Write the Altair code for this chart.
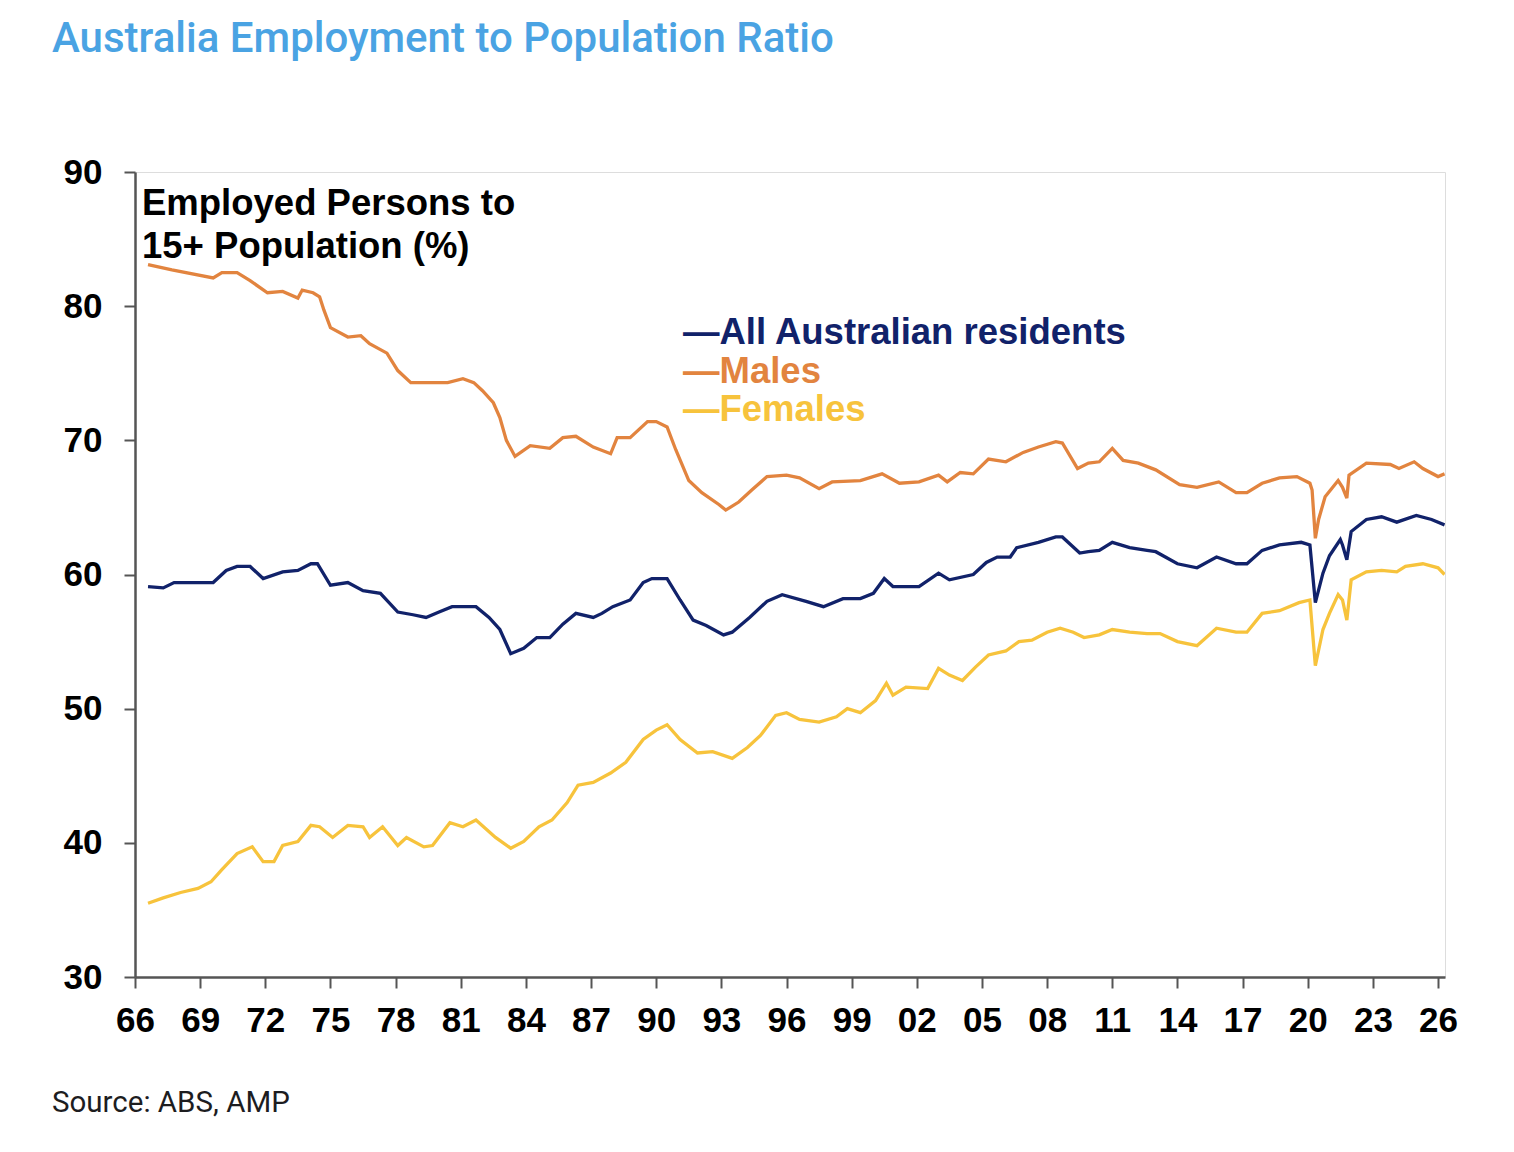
import altair as alt
import pandas as pd

# ---- data ----
all_years = [1966.6, 1967.3, 1967.8, 1968.9, 1969.6, 1970.2, 1970.7, 1971.3, 1971.9, 1972.8,
             1973.5, 1974.1, 1974.4, 1975.0, 1975.8, 1976.5, 1977.3, 1978.1, 1978.8, 1979.4,
             1980.0, 1980.6, 1981.7, 1982.3, 1982.8, 1983.3, 1983.9, 1984.5, 1985.1, 1985.7,
             1986.3, 1987.1, 1987.5, 1988.0, 1988.8, 1989.4, 1989.8, 1990.5, 1991.1, 1991.7,
             1992.3, 1993.1, 1993.5, 1994.3, 1995.1, 1995.8, 1996.9, 1997.7, 1998.6, 1999.4,
             2000.0, 2000.5, 2000.9, 2002.1, 2003.0, 2003.5, 2004.6, 2005.2, 2005.7, 2006.3,
             2006.6, 2007.6, 2008.4, 2008.7, 2009.5, 2009.9, 2010.4, 2011.0, 2011.8, 2012.6,
             2013.0, 2014.0, 2014.9, 2015.8, 2016.7, 2017.2, 2017.9, 2018.7, 2019.7, 2020.1,
             2020.35, 2020.7, 2021.0, 2021.5, 2021.6, 2021.8, 2022.0, 2022.7, 2023.4, 2024.1,
             2025.0, 2025.7, 2026.3]
all_values = [59.1, 59.0, 59.4, 59.4, 59.4, 60.3, 60.6, 60.6, 59.7, 60.2,
              60.3, 60.8, 60.8, 59.2, 59.4, 58.8, 58.6, 57.2, 57.0, 56.8,
              57.2, 57.6, 57.6, 56.8, 55.9, 54.1, 54.5, 55.3, 55.3, 56.3,
              57.1, 56.8, 57.1, 57.6, 58.1, 59.4, 59.7, 59.7, 58.1, 56.6,
              56.2, 55.5, 55.7, 56.8, 58.0, 58.5, 58.0, 57.6, 58.2, 58.2,
              58.6, 59.7, 59.1, 59.1, 60.1, 59.6, 60.0, 60.9, 61.3, 61.3,
              62.0, 62.4, 62.8, 62.8, 61.6, 61.7, 61.8, 62.4, 62.0, 61.8,
              61.7, 60.8, 60.5, 61.3, 60.8, 60.8, 61.8, 62.2, 62.4, 62.2,
              57.9, 60.1, 61.4, 62.6, 62.2, 61.1, 63.2, 64.1, 64.3, 63.9,
              64.4, 64.1, 63.7]

male_years = [1966.6, 1967.7, 1969.6, 1970.0, 1970.7, 1971.3, 1972.1, 1972.8, 1973.5, 1973.7,
              1974.2, 1974.5, 1974.7, 1975.0, 1975.8, 1976.4, 1976.8, 1977.6, 1978.1, 1978.7,
              1979.6, 1980.4, 1981.1, 1981.6, 1982.0, 1982.5, 1982.8, 1983.1, 1983.5, 1984.2,
              1985.1, 1985.7, 1986.3, 1987.1, 1987.9, 1988.2, 1988.8, 1989.6, 1990.0, 1990.5,
              1990.9, 1991.5, 1992.1, 1992.9, 1993.2, 1993.8, 1994.4, 1995.1, 1996.0, 1996.6,
              1997.5, 1998.1, 1999.4, 2000.4, 2001.2, 2002.1, 2003.0, 2003.4, 2004.0, 2004.6,
              2005.3, 2006.1, 2006.9, 2007.6, 2008.4, 2008.7, 2009.4, 2009.9, 2010.4, 2011.0,
              2011.5, 2012.2, 2013.0, 2014.1, 2014.9, 2015.9, 2016.7, 2017.2, 2017.9, 2018.7,
              2019.5, 2020.1, 2020.2, 2020.35, 2020.5, 2020.8, 2021.4, 2021.6, 2021.8, 2021.9,
              2022.7, 2023.8, 2024.2, 2024.9, 2025.3, 2026.0, 2026.3]
male_values = [83.1, 82.7, 82.1, 82.5, 82.5, 81.9, 81.0, 81.1, 80.6, 81.2,
               81.0, 80.7, 79.7, 78.4, 77.7, 77.8, 77.2, 76.5, 75.2, 74.3,
               74.3, 74.3, 74.6, 74.3, 73.7, 72.8, 71.7, 70.0, 68.8, 69.6,
               69.4, 70.2, 70.3, 69.5, 69.0, 70.2, 70.2, 71.4, 71.4, 71.0,
               69.3, 67.0, 66.1, 65.2, 64.8, 65.4, 66.3, 67.3, 67.4, 67.2,
               66.4, 66.9, 67.0, 67.5, 66.8, 66.9, 67.4, 66.9, 67.6, 67.5,
               68.6, 68.4, 69.1, 69.5, 69.9, 69.8, 67.9, 68.3, 68.4, 69.4,
               68.5, 68.3, 67.8, 66.7, 66.5, 66.9, 66.1, 66.1, 66.8, 67.2,
               67.3, 66.8, 66.3, 62.7, 64.1, 65.8, 67.0, 66.5, 65.7, 67.4,
               68.3, 68.2, 67.9, 68.4, 67.9, 67.3, 67.5]

female_years = [1966.6, 1967.3, 1968.1, 1968.9, 1969.5, 1970.0, 1970.7, 1971.4, 1971.9, 1972.4,
                1972.8, 1973.5, 1974.1, 1974.5, 1975.1, 1975.8, 1976.5, 1976.8, 1977.4, 1978.1,
                1978.5, 1979.3, 1979.7, 1980.5, 1981.1, 1981.7, 1982.6, 1983.3, 1983.9, 1984.6,
                1985.2, 1985.9, 1986.4, 1987.1, 1987.9, 1988.6, 1989.4, 1990.0, 1990.5, 1991.1,
                1991.9, 1992.6, 1993.5, 1994.2, 1994.8, 1995.5, 1996.0, 1996.6, 1997.5, 1998.3,
                1998.8, 1999.4, 2000.1, 2000.6, 2000.9, 2001.5, 2002.5, 2003.0, 2003.5, 2004.1,
                2004.7, 2005.3, 2006.1, 2006.7, 2007.3, 2008.0, 2008.6, 2009.2, 2009.7, 2010.4,
                2011.0, 2011.8, 2012.6, 2013.2, 2014.0, 2014.9, 2015.8, 2016.7, 2017.2, 2017.9,
                2018.7, 2019.6, 2020.1, 2020.35, 2020.7, 2021.0, 2021.4, 2021.6, 2021.8, 2022.0,
                2022.7, 2023.4, 2024.1, 2024.5, 2025.3, 2026.0, 2026.3]
female_values = [35.5, 35.9, 36.3, 36.6, 37.1, 38.0, 39.2, 39.7, 38.6, 38.6,
                 39.8, 40.1, 41.3, 41.2, 40.4, 41.3, 41.2, 40.4, 41.2, 39.8,
                 40.4, 39.7, 39.8, 41.5, 41.2, 41.7, 40.4, 39.6, 40.1, 41.2,
                 41.7, 43.0, 44.3, 44.5, 45.2, 46.0, 47.7, 48.4, 48.8, 47.7,
                 46.7, 46.8, 46.3, 47.1, 48.0, 49.5, 49.7, 49.2, 49.0, 49.4,
                 50.0, 49.7, 50.6, 51.9, 51.0, 51.6, 51.5, 53.0, 52.5, 52.1,
                 53.1, 54.0, 54.3, 55.0, 55.1, 55.7, 56.0, 55.7, 55.3, 55.5,
                 55.9, 55.7, 55.6, 55.6, 55.0, 54.7, 56.0, 55.7, 55.7, 57.1,
                 57.3, 57.9, 58.1, 53.2, 55.9, 57.1, 58.5, 58.1, 56.6, 59.6,
                 60.2, 60.3, 60.2, 60.6, 60.8, 60.5, 60.0]

series_names = ["All Australian residents", "Males", "Females"]
series_colors = ["#11226a", "#e2843f", "#f7c33c"]
x_tick_years = list(range(1966, 2027, 3))
y_ticks = [30, 40, 50, 60, 70, 80, 90]

title_text = "Australia Employment to Population Ratio"
note_lines = ["Employed Persons to", "15+ Population (%)"]
source_text = "Source: ABS, AMP"

# ---- long table ----
frames = []
for name, yrs, vals in [(series_names[0], all_years, all_values),
                        (series_names[1], male_years, male_values),
                        (series_names[2], female_years, female_values)]:
    frames.append(pd.DataFrame({"year": yrs, "value": vals, "series": name}))
df = pd.concat(frames, ignore_index=True)

W, H = 1310, 805
LEFT, TOP = 135, 172
AXFONT = "Liberation Sans"

lines = alt.Chart(df).mark_line(strokeWidth=3.3, clip=True).encode(
    x=alt.X("year:Q",
            scale=alt.Scale(domain=[1966, 2026.32], nice=False, zero=False),
            axis=alt.Axis(values=x_tick_years, labelExpr="substring(toString(datum.value), 2, 4)",
                          title=None, grid=False, tickSize=11, tickWidth=2, tickColor="#555555",
                          domainColor="#555555", domainWidth=2.5, labelFont=AXFONT,
                          labelFontSize=35, labelFontWeight="bold", labelColor="#000000",
                          labelPadding=15, zindex=1, labelOverlap=False, labelFlush=False)),
    y=alt.Y("value:Q",
            scale=alt.Scale(domain=[30, 90], nice=False, zero=False),
            axis=alt.Axis(values=y_ticks, title=None, grid=False, tickSize=11, tickWidth=2,
                          tickColor="#555555", domainColor="#555555", domainWidth=2.5,
                          labelFont=AXFONT, labelFontSize=35, labelFontWeight="bold",
                          labelColor="#000000", labelPadding=22, zindex=1)),
    color=alt.Color("series:N", scale=alt.Scale(domain=series_names, range=series_colors),
                    legend=None),
    detail="series:N",
)

one = pd.DataFrame({"k": [0]})

def txt(text, x, y, size, color, weight="normal", font=AXFONT):
    return alt.Chart(one).mark_text(
        text=text, align="left", baseline="alphabetic", fontSize=size, font=font,
        fontWeight=weight, color=color,
    ).encode(x=alt.value(x), y=alt.value(y))

layers = [lines]
# title and source
layers.append(txt(title_text, 52 - LEFT, 52 - TOP, 42, "#4aa3e3", 500, font="Roboto"))
layers.append(txt(source_text, 52 - LEFT, 1112 - TOP, 29.5, "#1d1d1f", font="Roboto"))
# in-plot note
layers.append(txt(note_lines[0], 142 - LEFT, 215 - TOP, 36.5, "#000000", "bold"))
layers.append(txt(note_lines[1], 142 - LEFT, 258 - TOP, 36.5, "#000000", "bold"))
# legend (em dash + label, coloured)
for name, col, base in zip(series_names, series_colors, [344, 383, 421]):
    layers.append(txt("\u2014" + name, 683 - LEFT, base - TOP, 36.5, col, "bold"))

chart = alt.layer(*layers).properties(
    width=W, height=H,
    autosize=alt.AutoSizeParams(type="none"),
    padding={"left": LEFT, "top": TOP, "right": 1514 - LEFT - W, "bottom": 1152 - TOP - H},
).configure_view(
    stroke="#8f8f8f", strokeWidth=2.8
).configure(background="white")

chart.save("out.html", embed_options={"renderer": "svg", "actions": False})
